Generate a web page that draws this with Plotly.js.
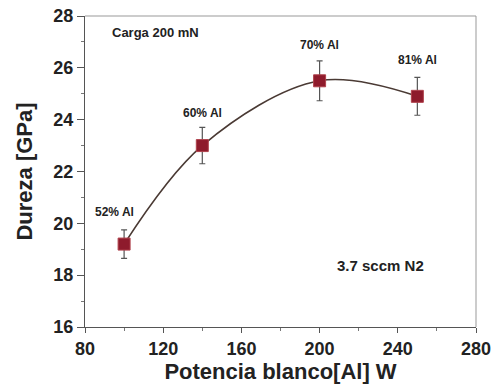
<!DOCTYPE html>
<html>
<head>
<meta charset="utf-8">
<script src="https://cdn.plot.ly/plotly-3.0.1.min.js"></script>
<style>html,body{margin:0;padding:0;background:#fff;}#chart{width:492px;height:389px;}</style>
</head>
<body>
<div id="chart"></div>
<script>
const power = [100, 140, 200, 250];
const hardness = [19.2, 23.0, 25.5, 24.9];
const errors = [0.55, 0.7, 0.77, 0.73];
const labels = ["52% Al", "60% Al", "70% Al", "81% Al"];
const labelY = [20.45, 24.25, 26.9, 26.3];
const labelX = [95, 140, 200, 250];

const font = "Liberation Sans, Arial, sans-serif";

const traces = [
  {
    x: power, y: hardness, mode: "lines",
    line: {shape: "spline", smoothing: 1.0, color: "#4a3a34", width: 1.6},
    hoverinfo: "skip", showlegend: false
  },
  {
    x: power, y: hardness, mode: "markers",
    marker: {symbol: "square", size: 12, color: "#8e1b2c", line: {color: "#b0424c", width: 1}},
    error_y: {type: "data", array: errors, visible: true, color: "#555", thickness: 1.2, width: 3},
    showlegend: false
  }
];

const annotations = labels.map((t, i) => ({
  x: labelX[i], y: labelY[i], text: "<b>" + t + "</b>", showarrow: false,
  font: {family: font, size: 12, color: "#222"}
}));
annotations.push({x: 116, y: 27.35, text: "<b>Carga 200 mN</b>", showarrow: false, font: {family: font, size: 13, color: "#222"}});
annotations.push({x: 231, y: 18.36, text: "<b>3.7 sccm N2</b>", showarrow: false, font: {family: font, size: 15, color: "#222"}});

const layout = {
  width: 492, height: 389,
  margin: {l: 85, r: 16, t: 16, b: 62},
  paper_bgcolor: "#fff", plot_bgcolor: "#fff",
  xaxis: {
    range: [80, 280], tickvals: [80, 120, 160, 200, 240, 280],
    ticks: "outside", ticklen: 5, tickcolor: "#555", tickwidth: 1,
    minor: {dtick: 20, ticks: "outside", ticklen: 3, tickcolor: "#777"},
    showgrid: false, zeroline: false,
    showline: true, linecolor: "#555", linewidth: 1.2, mirror: false,
    tickfont: {family: font, size: 18, color: "#222", weight: "bold"},
    title: {text: "<b>Potencia blanco[Al] W</b>", font: {family: font, size: 22, color: "#222"}, standoff: 2}
  },
  yaxis: {
    range: [16, 28], tickvals: [16, 18, 20, 22, 24, 26, 28],
    ticks: "outside", ticklen: 7, tickcolor: "#555", tickwidth: 1,
    minor: {dtick: 1, ticks: "outside", ticklen: 3, tickcolor: "#777"},
    showgrid: false, zeroline: false,
    showline: true, linecolor: "#555", linewidth: 1.2,
    tickfont: {family: font, size: 18, color: "#222", weight: "bold"},
    title: {text: "<b>Dureza [GPa]</b>", font: {family: font, size: 22, color: "#222"}, standoff: 14}
  },
  shapes: [
    {type: "line", xref: "paper", yref: "paper", x0: 0, x1: 1, y0: 1, y1: 1, line: {color: "#999", width: 1}},
    {type: "line", xref: "paper", yref: "paper", x0: 1, x1: 1, y0: 0, y1: 1, line: {color: "#999", width: 1}}
  ],
  annotations: annotations
};

Plotly.newPlot("chart", traces, layout, {displayModeBar: false, staticPlot: true});
</script>
</body>
</html>
